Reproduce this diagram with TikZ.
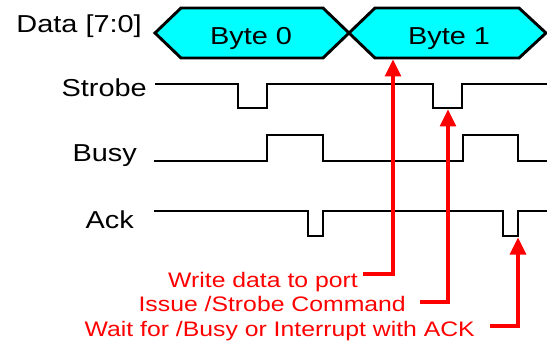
\documentclass[tikz,border=0pt]{standalone}
\usepackage{fontspec}
\setmainfont[FakeStretch=1.18]{Liberation Sans}
\usetikzlibrary{arrows.meta}
\definecolor{buscyan}{RGB}{0,255,255}
\definecolor{notered}{RGB}{255,0,0}
\tikzset{
  sig/.style={line width=2.9pt, line join=miter, black},
  bus/.style={line width=2.9pt, line join=miter, fill=buscyan, draw=black},
  siglabel/.style={anchor=base east, inner sep=0pt, font=\fontsize{24.5}{28}\selectfont},
  bytelabel/.style={anchor=base, inner sep=0pt, font=\fontsize{24.5}{28}\selectfont},
  note/.style={anchor=base east, inner sep=0pt, text=notered, font=\fontsize{21}{25}\selectfont},
  notearrow/.style={line width=3.2pt, draw=notered, -{Triangle[length=17pt,width=16pt]}},
}
\begin{document}
\begin{tikzpicture}[x=1pt, y=-1pt]
\useasboundingbox (0,0) rectangle (547,345);

% signal names
\node[siglabel] (ldata) at (142,33) {Data [7:0]};
\node[siglabel] (lstrobe) at (147,96) {Strobe};
\node[siglabel] (lbusy) at (137,161) {Busy};
\node[siglabel] (lack) at (134,228) {Ack};

% data bus
\draw[bus] (155,33) -- (181,8) -- (323,8) -- (349,33) -- (323,58) -- (181,58) -- cycle;
\draw[bus] (349,33) -- (375,8) -- (519,8) -- (546,33) -- (519,58) -- (375,58) -- cycle;
\node[bytelabel] (b0) at (251,45) {Byte 0};
\node[bytelabel] (b1) at (449,45) {Byte 1};

% Strobe
\draw[sig] (155,84) -- (238,84) -- (238,108) -- (267,108) -- (267,84)
  -- (433,84) -- (433,108) -- (462,108) -- (462,84) -- (547,84);
% Busy
\draw[sig] (154,161) -- (267,161) -- (267,135) -- (323,135) -- (323,161)
  -- (463,161) -- (463,135) -- (518,135) -- (518,161) -- (547,161);
% Ack
\draw[sig] (154,211) -- (308,211) -- (308,236) -- (323,236) -- (323,211)
  -- (503,211) -- (503,236) -- (518,236) -- (518,211) -- (547,211);

% points the notes refer to
\coordinate (tdata) at (393,59.5);
\coordinate (tstrobe) at (448,109.5);
\coordinate (tack) at (518,237.5);

% notes
\node[note] (nwrite) at (358,287) {Write data to port};
\node[note] (nissue) at (406,311) {Issue /Strobe Command};
\node[note] (nwait) at (475,336) {Wait for /Busy or Interrupt with ACK};
\coordinate (swrite) at (363,274);
\coordinate (sissue) at (420,302);
\coordinate (swait) at (490,326);

\draw[notearrow] (swrite) -| (tdata);
\draw[notearrow] (sissue) -| (tstrobe);
\draw[notearrow] (swait) -| (tack);
\end{tikzpicture}
\end{document}
